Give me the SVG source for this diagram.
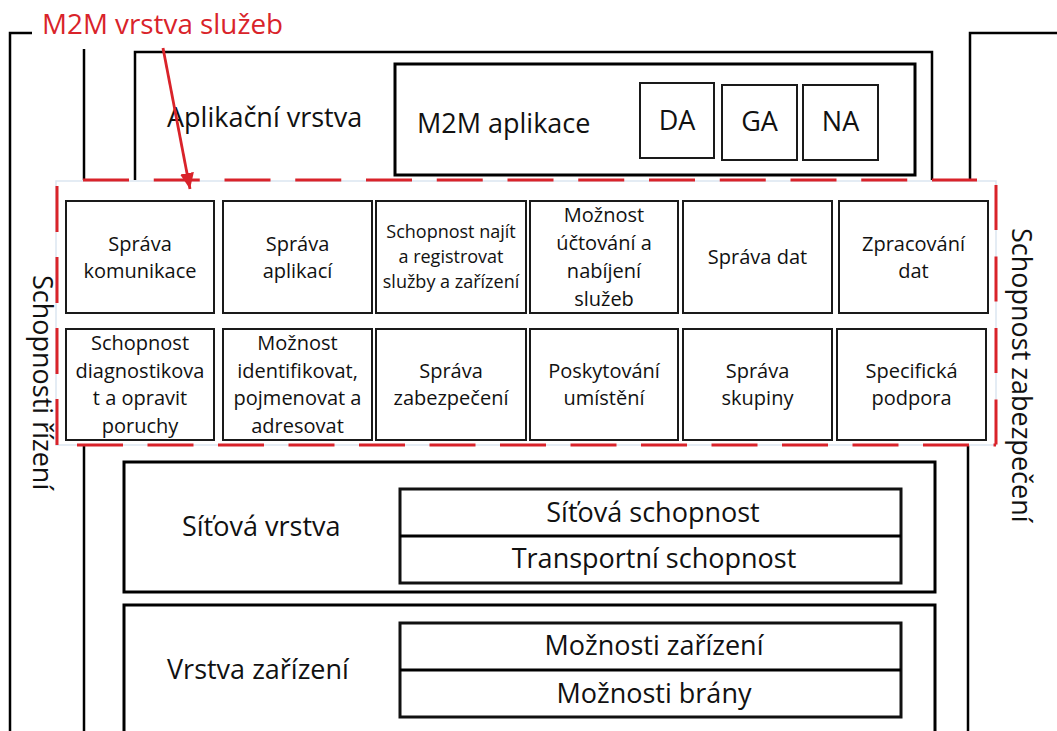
<svg xmlns="http://www.w3.org/2000/svg" width="1057" height="731" viewBox="0 0 1057 731">
  <style>
    .line { fill: none; stroke: #000; stroke-width: 2.5; }
    .layer { fill: none; stroke: #000; stroke-width: 3; }
    .cap { fill: #fff; stroke: #1a1a1a; stroke-width: 2; }
    .inner { fill: #fff; stroke: #111; stroke-width: 3; }
    .dash { fill: none; stroke: #d9232a; stroke-width: 3; }
    .halo { fill: none; stroke: #dbe6f1; stroke-width: 1.5; }
    text { font-family: "Open Sans", "Liberation Sans", sans-serif; fill: #111; }
    .big { font-size: 27px; }
    .title { font-size: 27.8px; }
    .mid { font-size: 20px; text-anchor: middle; }
    .small { font-size: 18px; text-anchor: middle; }
    .ctr { text-anchor: middle; }
    .red { fill: #d9232a; }
  </style>
  <defs>
    <marker id="arrowRed" viewBox="0 0 16 14" markerWidth="16" markerHeight="14" refX="16" refY="7" orient="auto" markerUnits="userSpaceOnUse">
      <path d="M0,0 L16,7 L0,14 z" fill="#d9232a"/>
    </marker>
  </defs>

  <rect width="1057" height="731" fill="#fff"/>

  <!-- management capabilities bracket (left) and security bracket (right) -->
  <g id="management">
    <path class="line" d="M32,33 H10 V731"/>
    <text class="big" transform="translate(33,275) rotate(90)">Schopnosti řízení</text>
  </g>
  <g id="security">
    <path class="line" d="M1057,33 H970 V180"/>
    <path class="line" d="M968,445 V731"/>
    <path class="line" d="M84,49 V180"/>
    <path class="line" d="M84,445 V731"/>
    <text class="big" transform="translate(1012,228) rotate(90)">Schopnost zabezpečení</text>
  </g>

  <!-- application layer -->
  <g id="app-layer">
    <path class="line" d="M135,180 V52 H932 V180"/>
    <text class="big" x="167" y="127">Aplikační vrstva</text>
  </g>
  <g id="m2m-app">
    <rect class="layer" x="395" y="64" width="520" height="111"/>
    <text class="big" x="417" y="133">M2M aplikace</text>
  </g>
  <g id="da">
    <rect class="cap" x="640" y="83" width="74" height="75"/>
    <text class="big ctr" x="677" y="130">DA</text>
  </g>
  <g id="ga">
    <rect class="cap" x="722" y="85" width="75" height="75"/>
    <text class="big ctr" x="759.5" y="131">GA</text>
  </g>
  <g id="na">
    <rect class="cap" x="803" y="85" width="75" height="75"/>
    <text class="big ctr" x="840.5" y="131">NA</text>
  </g>

  <!-- service layer frame -->
  <g id="service-layer">
    <rect class="halo" x="56" y="181" width="940" height="264"/>
    <line class="dash" x1="83" y1="180" x2="977" y2="180" stroke-dasharray="46 24.75"/>
    <line class="dash" x1="77" y1="445" x2="996" y2="445" stroke-dasharray="46 24.5"/>
    <line class="dash" x1="57" y1="445" x2="57" y2="182" stroke-dasharray="46 25"/>
    <line class="dash" x1="996" y1="185" x2="996" y2="445" stroke-dasharray="45 26.5"/>
    <text class="title red" x="42" y="34">M2M vrstva služeb</text>
  </g>

  <!-- service capabilities, row 1 -->
  <g id="sc-comm">
    <rect class="cap" x="66" y="201" width="148" height="112"/>
    <text class="mid"><tspan x="140" y="250.5">Správa</tspan><tspan x="140" y="277.5">komunikace</tspan></text>
  </g>
  <g id="sc-apps">
    <rect class="cap" x="223" y="201" width="149" height="112"/>
    <text class="mid"><tspan x="297.5" y="250.5">Správa</tspan><tspan x="297.5" y="277.5">aplikací</tspan></text>
  </g>
  <g id="sc-discovery">
    <rect class="cap" x="376" y="201" width="150" height="112"/>
    <text class="small"><tspan x="451" y="238">Schopnost najít</tspan><tspan x="451" y="263">a registrovat</tspan><tspan x="451" y="288">služby a zařízení</tspan></text>
  </g>
  <g id="sc-charging">
    <rect class="cap" x="530" y="201" width="148" height="112"/>
    <text class="mid"><tspan x="604" y="222">Možnost</tspan><tspan x="604" y="250">účtování a</tspan><tspan x="604" y="278">nabíjení</tspan><tspan x="604" y="306">služeb</tspan></text>
  </g>
  <g id="sc-data">
    <rect class="cap" x="683" y="201" width="149" height="112"/>
    <text class="mid" x="757.5" y="264">Správa dat</text>
  </g>
  <g id="sc-processing">
    <rect class="cap" x="839" y="201" width="149" height="112"/>
    <text class="mid"><tspan x="913.5" y="250.5">Zpracování</tspan><tspan x="913.5" y="277.5">dat</tspan></text>
  </g>

  <!-- service capabilities, row 2 -->
  <g id="sc-diagnostics">
    <rect class="cap" x="66" y="329" width="148" height="111"/>
    <text class="mid"><tspan x="140" y="350">Schopnost</tspan><tspan x="140" y="377.5">diagnostikova</tspan><tspan x="140" y="405">t a opravit</tspan><tspan x="140" y="432.5">poruchy</tspan></text>
  </g>
  <g id="sc-addressing">
    <rect class="cap" x="223" y="329" width="149" height="111"/>
    <text class="mid"><tspan x="297.5" y="350">Možnost</tspan><tspan x="297.5" y="377.5">identifikovat,</tspan><tspan x="297.5" y="405">pojmenovat a</tspan><tspan x="297.5" y="432.5">adresovat</tspan></text>
  </g>
  <g id="sc-security">
    <rect class="cap" x="376" y="329" width="150" height="111"/>
    <text class="mid"><tspan x="451" y="377.5">Správa</tspan><tspan x="451" y="404.5">zabezpečení</tspan></text>
  </g>
  <g id="sc-location">
    <rect class="cap" x="530" y="329" width="148" height="111"/>
    <text class="mid"><tspan x="604" y="377.5">Poskytování</tspan><tspan x="604" y="404.5">umístění</tspan></text>
  </g>
  <g id="sc-group">
    <rect class="cap" x="683" y="329" width="149" height="111"/>
    <text class="mid"><tspan x="757.5" y="377.5">Správa</tspan><tspan x="757.5" y="404.5">skupiny</tspan></text>
  </g>
  <g id="sc-specific">
    <rect class="cap" x="837" y="329" width="149" height="111"/>
    <text class="mid"><tspan x="911.5" y="377.5">Specifická</tspan><tspan x="911.5" y="404.5">podpora</tspan></text>
  </g>

  <!-- network layer -->
  <g id="network-layer">
    <rect class="layer" x="124" y="462" width="811" height="130"/>
    <text class="big" x="182" y="536">Síťová vrstva</text>
  </g>
  <g id="network-caps">
    <rect class="inner" x="400" y="489" width="501" height="94"/>
    <line class="layer" x1="400" y1="536" x2="901" y2="536"/>
    <text class="big ctr" x="653" y="522">Síťová schopnost</text>
    <text class="big ctr" x="654" y="568">Transportní schopnost</text>
  </g>

  <!-- device layer -->
  <g id="device-layer">
    <path class="layer" d="M124,731 V605 H935 V731"/>
    <text class="big" x="167" y="679">Vrstva zařízení</text>
  </g>
  <g id="device-caps">
    <rect class="inner" x="400" y="623" width="501" height="94"/>
    <line class="layer" x1="400" y1="670" x2="901" y2="670"/>
    <text class="big ctr" x="654" y="655">Možnosti zařízení</text>
    <text class="big ctr" x="654" y="703">Možnosti brány</text>
  </g>

  <!-- connectors -->
  <g id="connectors">
    <line x1="163" y1="48" x2="190" y2="189" stroke="#d9232a" stroke-width="2.8" marker-end="url(#arrowRed)"/>
  </g>
</svg>
